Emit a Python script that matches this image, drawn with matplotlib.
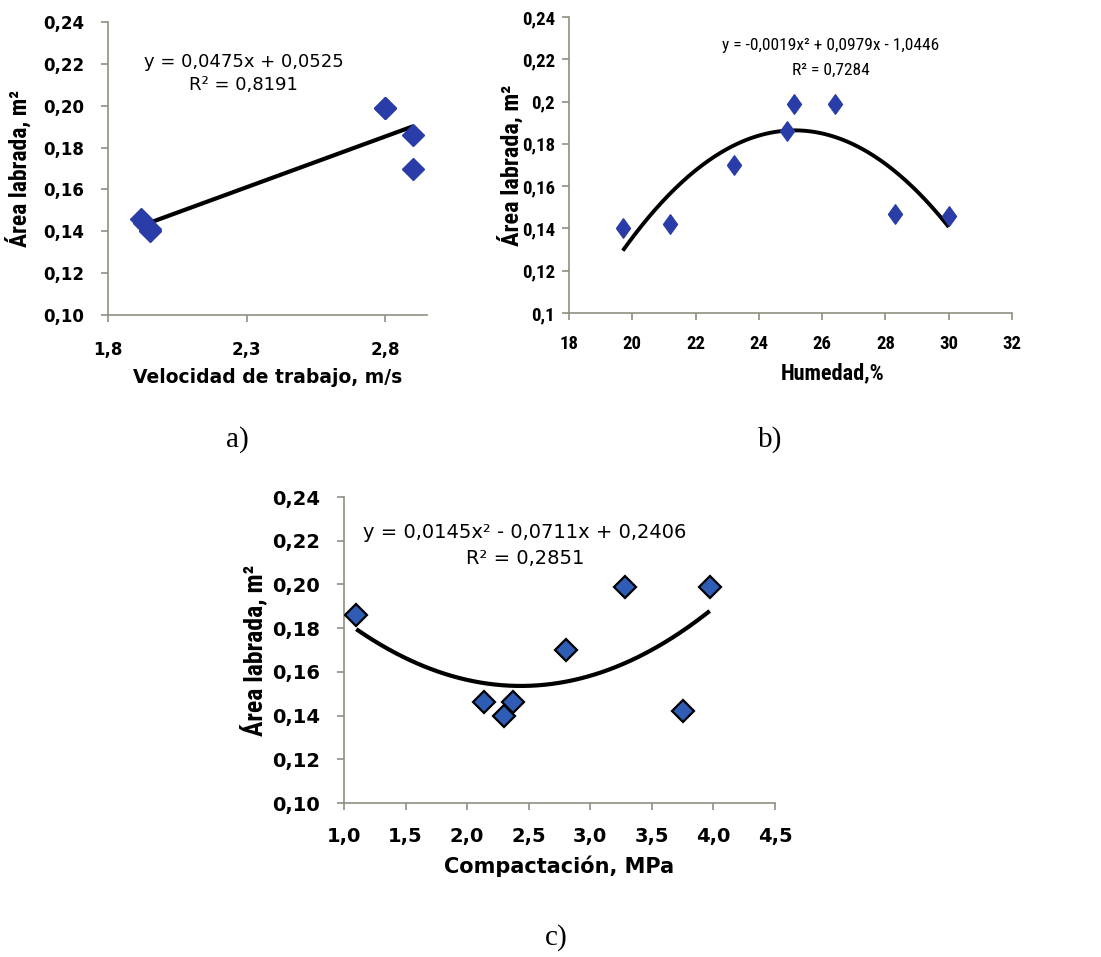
import numpy as np
import matplotlib
matplotlib.use("Agg")
import matplotlib.pyplot as plt
from matplotlib.ticker import FuncFormatter

# --- data ---
area_a = [0.146, 0.144, 0.140, 0.141, 0.199, 0.199, 0.186, 0.170]
velocidad = [1.92, 1.93, 1.95, 1.95, 2.80, 2.80, 2.90, 2.90]

humedad = [19.7, 21.2, 23.2, 24.9, 25.1, 26.4, 28.3, 30.0]
area_b = [0.140, 0.142, 0.170, 0.186, 0.199, 0.199, 0.147, 0.146]

compactacion = [1.10, 2.14, 2.30, 2.37, 2.80, 3.28, 3.75, 3.97]
area_c = [0.186, 0.146, 0.140, 0.146, 0.170, 0.199, 0.142, 0.199]

eq_a = ["y = 0,0475x + 0,0525", "R² = 0,8191"]
eq_b = ["y = -0,0019x² + 0,0979x - 1,0446", "R² = 0,7284"]
eq_c = ["y = 0,0145x² - 0,0711x + 0,2406", "R² = 0,2851"]

SPINE = "#8f8f80"
BLUE_AB = "#2a3ca8"
BLUE_C = "#2f5cb4"
NARROW = ["Roboto Condensed", "Open Sans Condensed", "Noto Sans Condensed",
          "Liberation Sans", "DejaVu Sans"]


def comma(fmt):
    return FuncFormatter(lambda v, p: fmt(v).replace(".", ","))


def excel_general(v):
    return ("%.2f" % v).rstrip("0").rstrip(".")


def style_axes(ax):
    for s in ["top", "right"]:
        ax.spines[s].set_visible(False)
    for s in ["left", "bottom"]:
        ax.spines[s].set_color(SPINE)
        ax.spines[s].set_linewidth(1.2)
    ax.tick_params(direction="out", length=5, width=1.2, color=SPINE)


def trend(ax, x, y, deg, lw):
    coef = np.polyfit(x, y, deg)
    xs = np.linspace(min(x), max(x), 200)
    ax.plot(xs, np.polyval(coef, xs), color="black", lw=lw, zorder=2,
            solid_capstyle="butt")


fig = plt.figure(figsize=(11.01, 9.57), dpi=100)

# ---------------- a) ----------------
ax = fig.add_axes([0.0981, 0.6708, 0.2897, 0.3062])
style_axes(ax)
trend(ax, velocidad, area_a, 1, 3.0)
ax.plot(velocidad, area_a, "D", ms=11, color=BLUE_AB, mec=BLUE_AB, zorder=3)
ax.set_xlim(1.8, 2.95)
ax.set_ylim(0.10, 0.24)
ax.set_xticks([1.8, 2.3, 2.8])
ax.set_yticks(np.arange(0.10, 0.241, 0.02))
ax.xaxis.set_major_formatter(comma(lambda v: "%.1f" % v))
ax.yaxis.set_major_formatter(comma(lambda v: "%.2f" % v))
for lab in ax.get_xticklabels() + ax.get_yticklabels():
    lab.set_fontweight("bold")
    lab.set_fontsize(12)
ax.tick_params(axis="x", pad=14)
ax.tick_params(axis="y", pad=12)
ax.set_xlabel("Velocidad de trabajo, m/s", fontsize=13.5, fontweight="bold",
              labelpad=6)
ax.set_ylabel("Área labrada, m²", family=NARROW, fontsize=17,
              fontweight="bold", labelpad=8)
ax.text(0.425, 0.865, eq_a[0], transform=ax.transAxes, ha="center",
        va="center", fontsize=13)
ax.text(0.425, 0.785, eq_a[1], transform=ax.transAxes, ha="center",
        va="center", fontsize=13)

# ---------------- b) ----------------
ax = fig.add_axes([0.5168, 0.6729, 0.4024, 0.3093])
style_axes(ax)
trend(ax, humedad, area_b, 2, 2.8)
diamond = [(-0.72, 0), (0, 1), (0.72, 0), (0, -1), (-0.72, 0)]
ax.plot(humedad, area_b, marker=diamond, ls="none", ms=14, color=BLUE_AB,
        mec=BLUE_AB, zorder=3)
ax.set_xlim(18, 32)
ax.set_ylim(0.10, 0.24)
ax.set_xticks(np.arange(18, 33, 2))
ax.set_yticks(np.arange(0.10, 0.241, 0.02))
ax.yaxis.set_major_formatter(comma(excel_general))
for lab in ax.get_xticklabels() + ax.get_yticklabels():
    lab.set_fontweight("bold")
    lab.set_fontsize(13.5)
    lab.set_family(NARROW)
ax.tick_params(axis="x", pad=11)
ax.tick_params(axis="y", pad=5)
ax.set_xlabel("Humedad,%", family=NARROW, fontsize=16, fontweight="bold")
ax.xaxis.set_label_coords(0.594, -0.165)
ax.set_ylabel("Área labrada, m²", family=NARROW, fontsize=17.5,
              fontweight="bold", labelpad=-1)
ax.text(0.59, 0.905, eq_b[0], transform=ax.transAxes, ha="center",
        va="center", fontsize=12.5, family=NARROW)
ax.text(0.59, 0.82, eq_b[1], transform=ax.transAxes, ha="center",
        va="center", fontsize=12.5, family=NARROW)

# ---------------- c) ----------------
ax = fig.add_axes([0.3124, 0.1609, 0.3915, 0.3197])
style_axes(ax)
trend(ax, compactacion, area_c, 2, 3.0)
ax.plot(compactacion, area_c, "D", ms=11.5, color=BLUE_C, mec="black",
        mew=1.6, zorder=3)
ax.set_xlim(1.0, 4.5)
ax.set_ylim(0.10, 0.24)
ax.set_xticks(np.arange(1.0, 4.51, 0.5))
ax.set_yticks(np.arange(0.10, 0.241, 0.02))
ax.xaxis.set_major_formatter(comma(lambda v: "%.1f" % v))
ax.yaxis.set_major_formatter(comma(lambda v: "%.2f" % v))
for lab in ax.get_xticklabels() + ax.get_yticklabels():
    lab.set_fontweight("bold")
    lab.set_fontsize(14)
ax.tick_params(axis="x", pad=12)
ax.tick_params(axis="y", pad=12)
ax.set_xlabel("Compactación, MPa", fontsize=15, fontweight="bold",
              labelpad=7)
ax.set_ylabel("Área labrada, m²", family=NARROW, fontsize=18.5,
              fontweight="bold", labelpad=3.5)
ax.text(0.42, 0.885, eq_c[0], transform=ax.transAxes, ha="center",
        va="center", fontsize=14)
ax.text(0.42, 0.80, eq_c[1], transform=ax.transAxes, ha="center",
        va="center", fontsize=14)

# panel letters
for txt, x, y in [("a)", 237, 440), ("b)", 770, 440), ("c)", 556, 938)]:
    fig.text(x / 1101, 1 - y / 957, txt, ha="center", va="center",
             fontsize=21, family="Liberation Serif")

fig.savefig("out.png", dpi=100)
